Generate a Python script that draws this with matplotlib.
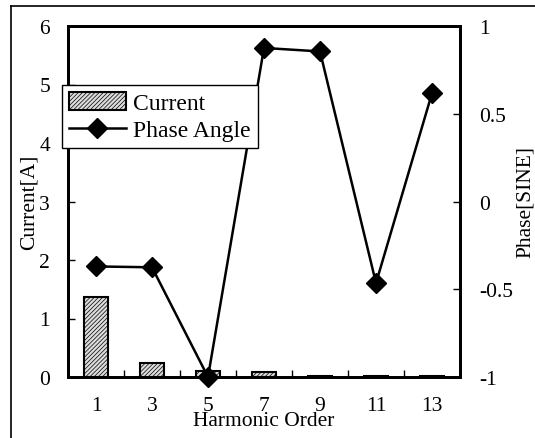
import matplotlib
matplotlib.use('Agg')
import matplotlib.pyplot as plt
from matplotlib.lines import Line2D
import numpy as np

plt.rcParams['font.family'] = ['Liberation Serif', 'DejaVu Serif']
plt.rcParams['hatch.color'] = '#808080'
plt.rcParams['hatch.linewidth'] = 0.5

# data
orders = ['1', '3', '5', '7', '9', '11', '13']
current = [1.37, 0.24, 0.10, 0.08, 0.02, 0.02, 0.02]
phase = [-0.37, -0.375, -1.0, 0.875, 0.855, -0.465, 0.617]

W, H = 535, 439
fig = plt.figure(figsize=(W / 100, H / 100), dpi=100)

# outer frame (left and top only visible)
fig.add_artist(Line2D([11 / W, 11 / W], [0, 1 - 7 / H], color='black', lw=1.2))
fig.add_artist(Line2D([11 / W, 1], [1 - 7 / H, 1 - 7 / H], color='black', lw=1.2))

ax1 = fig.add_axes([68 / W, 1 - 378 / H, (460 - 68) / W, (378 - 27) / H])
x = np.arange(len(orders))
ax1.bar(x, current, width=0.42, color='#dcdcdc', edgecolor='black',
        linewidth=1.5, hatch='////////', label='Current', zorder=2)
ax1.set_xlim(-0.5, len(orders) - 0.5)
ax1.set_ylim(0, 6)
ax1.set_yticks(range(7))
ax1.set_xticks(x)
ax1.set_xticklabels(orders)
ax1.set_xticks(x[:-1] + 0.5, minor=True)
ax1.tick_params(axis='x', which='major', length=0, labelsize=15.5, pad=14)
ax1.tick_params(axis='x', which='minor', direction='in', length=5, width=1)
ax1.tick_params(axis='y', direction='in', length=5, width=1, labelsize=15.5, pad=13)
ax1.set_ylabel('Current[A]', fontsize=15.5, labelpad=0)
ax1.set_xlabel('Harmonic Order', fontsize=15.5, labelpad=-3)

ax2 = ax1.twinx()
line, = ax2.plot(x, phase, color='black', lw=1.8, marker='D', markersize=10,
                 label='Phase Angle', zorder=3, clip_on=False)
ax2.set_ylim(-1, 1)
ax2.set_yticks([-1, -0.5, 0, 0.5, 1])
ax2.set_yticklabels(['-1', '-0.5', '0', '0.5', '1'])
ax2.tick_params(axis='y', direction='in', length=5, width=1, labelsize=15.5, pad=14)
ax2.set_ylabel('Phase[SINE]', fontsize=15.5, labelpad=2)

for ax in (ax1, ax2):
    for s in ax.spines.values():
        s.set_linewidth(2)

h1, l1 = ax1.get_legend_handles_labels()
leg = fig.legend(h1 + [line], l1 + ['Phase Angle'], loc='upper left',
                 bbox_to_anchor=(62 / W, 1 - 86 / H), fontsize=17, frameon=True,
                 fancybox=False, edgecolor='black', framealpha=1,
                 borderpad=0.3, handlelength=2.4, handleheight=0.8,
                 handletextpad=0.3, labelspacing=0.2, borderaxespad=0)
leg.get_frame().set_linewidth(1)

fig.savefig('out.png', dpi=100)
